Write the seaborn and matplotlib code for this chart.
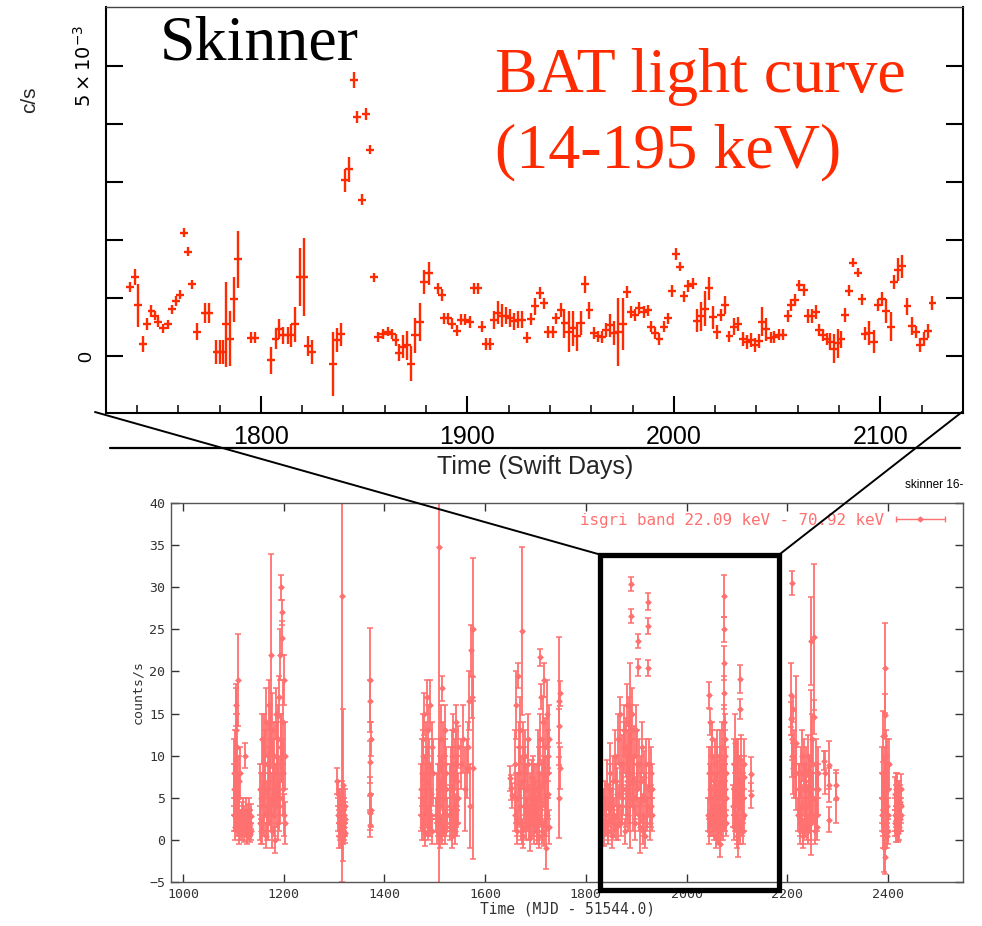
import numpy as np
import pandas as pd
import matplotlib
matplotlib.use('Agg')
import matplotlib.pyplot as plt
import seaborn as sns
from matplotlib.lines import Line2D
from matplotlib.patches import Rectangle
from matplotlib.ticker import MultipleLocator
from matplotlib.legend_handler import HandlerErrorbar

# ---- BAT light curve (Swift days, rate in units of 1e-3 c/s) ----
bat_day = [
    1736.6, 1739.0, 1740.6, 1743.0, 1744.7, 1747.0, 1748.7, 1750.3, 1752.7, 1755.1,
    1756.8, 1758.7, 1760.8, 1762.9, 1764.8, 1766.8, 1768.9, 1772.9, 1774.8, 1778.5,
    1780.1, 1781.7, 1782.9, 1785.0, 1786.9, 1789.0, 1795.1, 1797.1, 1804.8, 1807.1,
    1808.7, 1810.8, 1812.9, 1814.8, 1816.7, 1818.9, 1820.8, 1822.8, 1824.8, 1835.0,
    1836.9, 1839.0, 1840.6, 1842.7, 1845.0, 1846.7, 1849.0, 1851.1, 1853.0, 1854.8,
    1856.8, 1859.2, 1861.6, 1863.5, 1865.2, 1866.8, 1868.8, 1871.0, 1872.9, 1874.5,
    1876.9, 1878.8, 1881.3, 1885.8, 1887.7, 1888.7, 1890.6, 1892.5, 1895.1, 1897.1,
    1899.0, 1901.1, 1903.2, 1905.1, 1907.1, 1909.1, 1911.1, 1912.8, 1914.7, 1916.7,
    1918.6, 1920.5, 1922.5, 1924.4, 1926.3, 1929.0, 1930.9, 1932.9, 1935.0, 1936.9,
    1939.0, 1941.4, 1943.0, 1945.1, 1947.0, 1949.1, 1951.0, 1953.2, 1955.1, 1957.0,
    1959.1, 1961.2, 1963.1, 1965.1, 1967.2, 1969.3, 1971.2, 1973.1, 1975.2, 1977.2,
    1979.3, 1981.4, 1983.3, 1985.3, 1987.3, 1989.0, 1990.9, 1993.0, 1995.1, 1997.1,
    1999.0, 2001.1, 2003.0, 2005.1, 2007.0, 2009.1, 2011.0, 2013.2, 2015.1, 2017.2,
    2019.1, 2020.9, 2022.8, 2024.9, 2026.9, 2029.0, 2030.9, 2033.3, 2035.2, 2037.3,
    2039.5, 2041.4, 2042.7, 2044.6, 2047.1, 2048.6, 2050.7, 2052.7, 2055.1, 2056.7,
    2058.8, 2060.8, 2062.8, 2064.8, 2066.9, 2068.8, 2070.4, 2072.0, 2074.0, 2075.6,
    2077.7, 2079.3, 2080.9, 2083.0, 2084.9, 2086.9, 2089.0, 2091.1, 2092.7, 2094.6,
    2097.1, 2098.7, 2100.8, 2102.7, 2105.1, 2106.7, 2108.6, 2110.7, 2113.1, 2115.2,
    2117.2, 2119.3, 2121.2, 2123.2, 2125.2]
bat_rate = [
    1.19, 1.37, 0.88, 0.21, 0.55, 0.78, 0.70, 0.59, 0.48, 0.55,
    0.81, 0.95, 1.06, 2.13, 1.80, 1.24, 0.42, 0.75, 0.75, 0.07,
    0.07, 0.07, 0.55, 0.30, 0.98, 1.67, 0.32, 0.32, -0.07, 0.30,
    0.47, 0.36, 0.36, 0.36, 0.55, 1.36, 1.36, 0.17, 0.07, -0.13,
    0.28, 0.38, 3.03, 3.22, 4.76, 4.12, 2.70, 4.18, 3.56, 1.36,
    0.33, 0.38, 0.42, 0.38, 0.28, 0.06, 0.16, 0.19, -0.13, 0.36,
    0.59, 1.28, 1.43, 1.17, 1.05, 0.65, 0.65, 0.56, 0.44, 0.63,
    0.63, 0.59, 1.17, 1.17, 0.51, 0.21, 0.21, 0.62, 0.75, 0.70,
    0.70, 0.66, 0.60, 0.63, 0.63, 0.32, 0.64, 0.86, 1.09, 0.91,
    0.42, 0.42, 0.65, 0.79, 0.57, 0.42, 0.48, 0.34, 0.57, 1.24,
    0.79, 0.40, 0.34, 0.33, 0.45, 0.53, 0.40, 0.42, 0.56, 1.11,
    0.76, 0.71, 0.83, 0.76, 0.79, 0.51, 0.40, 0.30, 0.51, 0.65,
    1.12, 1.76, 1.54, 1.03, 1.21, 1.25, 0.61, 0.69, 0.82, 1.17,
    0.67, 0.42, 0.71, 0.88, 0.34, 0.51, 0.55, 0.29, 0.25, 0.28,
    0.19, 0.26, 0.59, 0.46, 0.32, 0.33, 0.37, 0.37, 0.69, 0.88,
    0.97, 1.22, 1.14, 0.69, 0.69, 0.76, 0.45, 0.36, 0.30, 0.25,
    0.13, 0.22, 0.29, 0.71, 1.13, 1.61, 1.44, 0.98, 0.39, 0.40,
    0.25, 0.88, 0.99, 0.78, 0.51, 1.28, 1.49, 1.55, 0.86, 0.52,
    0.42, 0.19, 0.30, 0.43, 0.92]
bat_err = [
    0.09, 0.14, 0.37, 0.14, 0.10, 0.10, 0.08, 0.08, 0.08, 0.08,
    0.08, 0.08, 0.08, 0.08, 0.08, 0.08, 0.15, 0.17, 0.17, 0.20,
    0.20, 0.20, 0.73, 0.47, 0.39, 0.49, 0.10, 0.10, 0.23, 0.17,
    0.17, 0.15, 0.15, 0.20, 0.30, 0.50, 0.67, 0.17, 0.20, 0.55,
    0.20, 0.20, 0.20, 0.22, 0.14, 0.10, 0.10, 0.10, 0.08, 0.08,
    0.08, 0.08, 0.08, 0.08, 0.10, 0.15, 0.20, 0.25, 0.30, 0.30,
    0.33, 0.20, 0.20, 0.10, 0.10, 0.10, 0.10, 0.10, 0.10, 0.10,
    0.10, 0.10, 0.10, 0.10, 0.10, 0.10, 0.10, 0.15, 0.20, 0.20,
    0.15, 0.15, 0.15, 0.15, 0.15, 0.10, 0.10, 0.15, 0.10, 0.10,
    0.10, 0.10, 0.10, 0.12, 0.25, 0.35, 0.30, 0.25, 0.20, 0.15,
    0.15, 0.10, 0.10, 0.10, 0.12, 0.20, 0.20, 0.59, 0.45, 0.10,
    0.10, 0.10, 0.10, 0.10, 0.10, 0.10, 0.10, 0.10, 0.10, 0.10,
    0.10, 0.10, 0.08, 0.10, 0.10, 0.10, 0.20, 0.25, 0.30, 0.20,
    0.20, 0.12, 0.10, 0.15, 0.10, 0.15, 0.12, 0.12, 0.12, 0.12,
    0.12, 0.12, 0.25, 0.20, 0.10, 0.10, 0.10, 0.10, 0.10, 0.10,
    0.10, 0.10, 0.10, 0.12, 0.12, 0.12, 0.10, 0.10, 0.10, 0.15,
    0.25, 0.25, 0.15, 0.12, 0.10, 0.08, 0.08, 0.10, 0.12, 0.20,
    0.20, 0.10, 0.12, 0.20, 0.25, 0.12, 0.20, 0.20, 0.15, 0.15,
    0.10, 0.12, 0.12, 0.12, 0.12]
bat_bin_half = 1.9

# ---- ISGRI light curve, arrays per visibility window ----
a_t = [1101, 1102, 1103, 1104, 1105, 1105, 1106, 1107, 1108, 1108, 1109, 1110, 1111, 1112, 1113, 1114,
       1116, 1118, 1119, 1120, 1121, 1122, 1124, 1125, 1126, 1127, 1128, 1129, 1130, 1131, 1132, 1133, 1134,
       1102, 1104, 1106, 1109, 1111, 1113, 1117, 1123, 1129, 1135]
a_r = [3, 6, 1.5, 9, 13, 16, 4, 2, 7, 11, 19, 5, 1, 3, 8, 2,
       2, 1, 3, 2.5, 0.8, 10, 1.5, 3, 2, 0.5, 2.5, 1, 3.5, 1.5, 2, 0.7, 2.8,
       8, 3, 11, 5, 7, 1, 3, 2, 2, 1]
a_e = [2, 3, 1.5, 4, 5, 2.5, 3, 1.5, 3, 4, 5.5, 2, 1.5, 2, 3, 1.5,
       1.5, 1, 2, 1.5, 1, 1.5, 1, 2, 1.5, 1, 1.8, 1, 1.5, 1, 1.5, 1, 1.5,
       4, 2, 4, 3, 3, 1, 1.5, 1.5, 1.5, 1]

b_t = [1152, 1154, 1156, 1157, 1158, 1160, 1161, 1162, 1164, 1165, 1166, 1168, 1169, 1170, 1171,
       1172, 1174, 1175, 1176, 1177, 1178, 1180, 1181, 1182, 1184, 1185, 1186, 1188, 1189, 1190,
       1191, 1192, 1193, 1194, 1195, 1196, 1197, 1198, 1199, 1200, 1201, 1202,
       1153, 1155, 1159, 1163, 1167, 1171, 1173, 1175, 1179, 1183, 1187, 1191, 1195, 1199, 1203]
b_r = [2, 5, 12, 1, 8, 3, 10, 6, 14, 0.5, 4, 9, 2, 7, 16,
       11, 5, 22, 1, 13, 8, 3, 10, 6, 15, 4, 9, 2, 12, 7,
       17, 5, 22, 11, 30, 24, 27, 14, 8, 19, 3, 10,
       6, 1, 4, 9, 2, 5, 12, 3, 6, 0, 8, 4, 11, 6, 2]
b_e = [2, 3, 3, 1.5, 4, 2.5, 5, 3, 4, 1.5, 3, 5, 2, 4, 3,
       5, 3, 12, 2, 4.5, 4, 2.5, 4, 3, 3, 2.5, 5, 2, 4, 3,
       2.5, 3, 3, 4, 1.5, 2, 1.5, 5, 4, 3, 2.5, 4,
       3, 1.5, 3, 4, 2, 3, 4, 2, 3, 1.5, 4, 3, 4, 3, 2.5]

c_t = [1306, 1308, 1309, 1310, 1311, 1312, 1313, 1314, 1315, 1316, 1317, 1318, 1319, 1320, 1321, 1322,
       1307, 1309, 1311, 1313, 1315, 1317, 1319, 1321]
c_r = [7, 5.5, 2, 4, 1, 3, 0.5, 2.5, 1.5, 29, 4, 6.5, 3, 1.5, 2.5, 0.8,
       3, 0.5, 4, 2, 5, 1, 2, 4]
c_e = [1.5, 1.5, 1.5, 2, 1, 2, 1.5, 1.5, 2, 34, 2, 9, 2, 1.5, 2, 1.2,
       2, 1.5, 2, 1.5, 2, 1.5, 1.5, 2]

d_t = [1371, 1372, 1373, 1371, 1372, 1373, 1371, 1372]
d_r = [19, 16.5, 12, 9.3, 5.5, 3.5, 1.8, 3.2]
d_e = [6.2, 2.5, 2, 2.5, 2, 2, 1.5, 2]

e_t = [1472, 1474, 1475, 1476, 1477, 1478, 1479, 1480, 1481, 1482, 1483,
       1484, 1485, 1486, 1487, 1488, 1489, 1490, 1491, 1492, 1494, 1496,
       1473, 1476, 1479, 1481, 1484, 1487, 1490, 1493, 1495]
e_r = [3, 1.5, 8, 5, 12, 2, 15, 6.5, 0.8, 10, 4, 17, 7, 1.5, 13, 3.5, 9, 16, 2.5, 5.5, 1, 8,
       6, 10, 3, 5, 8, 2, 6, 3, 11]
e_e = [2, 1.5, 4, 3, 3, 2, 2.5, 3.5, 1.5, 4, 2.5, 2, 4, 1.5, 3, 2.5, 3, 3, 2, 3, 1.5, 4,
       3, 3, 2, 3, 3, 1.5, 3, 2, 3]

g_t = [1508, 1503, 1505, 1506, 1507, 1509, 1510, 1511, 1512, 1513, 1514,
       1515, 1516, 1517, 1518, 1519, 1520, 1521, 1522, 1523, 1524,
       1504, 1508, 1511, 1514, 1517, 1520, 1523]
g_r = [34.8, 3, 1, 6, 2.5, 9, 0.5, 4, 12, 1.5, 7, 18, 3, 10, 2, 5, 13, 1, 6, 8, 3,
       5, 3, 7, 1, 6, 9, 2]
g_e = [42, 2, 1.5, 3, 2, 3, 1.5, 2.5, 4, 1.5, 3, 1.5, 2, 4, 1.5, 3, 3, 1.5, 3, 3, 2,
       3, 2, 3, 1.5, 3, 3, 1.5]

h_t = [1530, 1531, 1532, 1533, 1534, 1535, 1536, 1537, 1538, 1539, 1540, 1541, 1542, 1543, 1544, 1545, 1546,
       1531, 1534, 1537, 1540, 1543, 1546]
h_r = [4, 1.5, 8, 3, 10, 0.5, 6, 13, 2, 5, 9, 1, 14, 3.5, 7, 2, 11,
       6, 2, 8, 3, 10, 5]
h_e = [2.5, 1.5, 3, 2, 3, 1.5, 3, 2, 1.5, 3, 3, 1.5, 2, 2, 3, 1.5, 2.5,
       3, 1.5, 3, 2, 3, 3]

i_t = [1552, 1556, 1560, 1564, 1566, 1568, 1570, 1572, 1574, 1575, 1576]
i_r = [9, 12, 6, 8.5, 11, 16.5, 4, 22.5, 17, 25, 8.5]
i_e = [3, 4, 5, 3.5, 3, 3.5, 5, 3, 2.5, 8.5, 10.8]

j_t = [1650, 1652, 1654,
       1659, 1660, 1662, 1663, 1665, 1666, 1668, 1669, 1671, 1672, 1674, 1675, 1677, 1678, 1680,
       1681, 1683, 1684, 1686, 1687, 1689, 1690, 1692, 1693, 1695, 1696, 1697, 1698, 1699,
       1700, 1702, 1704, 1705, 1706, 1707, 1708, 1709, 1710, 1711, 1712, 1713, 1714, 1715, 1716,
       1717, 1718, 1719, 1720, 1721, 1722, 1723, 1724, 1725, 1726, 1727,
       1661, 1664, 1667, 1670, 1673, 1676, 1679, 1682, 1685, 1688, 1691, 1694,
       1701, 1703, 1705, 1709, 1713, 1717, 1721, 1725]
j_r = [7.3, 6.2, 5.3,
       3, 9, 16, 1, 5, 19.5, 11, 13, 2, 7, 24.8, 0.5, 4, 8, 10,
       1.5, 6, 3, 12, 2, 5, 0.2, 7.5, 4, 2.5, 6, 1, 3.5, 5,
       3, 1, 5, 2.5, 8, 0.5, 21.7, 12, 4, 17, 6.5, 2, 14, 9, 0.8,
       19, 4.5, 11, -1, 7, 15, 3, 10, 5.5, 1.5, 12,
       5, 2, 8, 4, 1, 10, 6, 3, 9, 4, 2, 7,
       6, 2, 9, 5, 1, 7, 3, 8]
j_e = [1.5, 1.5, 1.5,
       2, 4, 4, 1.5, 3, 1.5, 3, 4, 2, 3, 10, 1.5, 3, 3, 3,
       1.5, 3, 2, 3, 2, 3, 1.5, 2, 2.5, 2, 3, 1.5, 2.5, 2,
       2, 1.5, 2, 2, 3, 1.5, 1, 3, 2.5, 1.5, 3, 2, 3, 3, 1.5,
       2, 3, 3.5, 2.5, 3, 4, 2, 3, 3, 2, 4,
       3, 1.5, 3, 2.5, 1.5, 4, 3, 2, 3, 2.5, 1.5, 3,
       3, 2, 4, 3, 1.5, 3, 2.5, 3]

k_t = [1747, 1748, 1747, 1748, 1747]
k_r = [16.5, 17.4, 13.5, 8.5, 5]
k_e = [7.6, 1.5, 2, 2.5, 4.8]

l_t = [1834, 1836, 1838, 1840, 1842, 1844, 1846, 1848, 1850, 1852, 1854, 1856, 1858, 1860, 1862,
       1864, 1866, 1868, 1870, 1872, 1874, 1876, 1878, 1880, 1881, 1882, 1884, 1885, 1886, 1887,
       1888, 1890, 1890, 1891, 1892, 1894, 1896, 1898, 1900, 1902, 1903, 1904, 1906, 1908, 1910,
       1912, 1914, 1916, 1918, 1920, 1922, 1923, 1923, 1924, 1926, 1928, 1930, 1932,
       1835, 1839, 1843, 1847, 1851, 1855, 1859, 1863, 1867, 1871, 1875, 1879, 1883,
       1887, 1889, 1893, 1897, 1901, 1905, 1909, 1913, 1917, 1921, 1925, 1929, 1931]
l_r = [1.5, 0.8, 5, 2, 6.5, 1, 4, 8, 2.5, 0.5, 7, 3, 10, 1.5, 5.5,
       12, 4, 15, 2, 9, 6, 13, 1, 11, 16, 7, 3, 14, 9.5, 5,
       12, 30.4, 26.6, 8, 15, 4, 10, 2, 13, 6, 23.6, 20.5, 9, 1.5, 5,
       11, 3, 7.5, 0.5, 9, 4, 28.3, 25.4, 20.4, 6, 2, 8, 3,
       4, 3, 1, 6, 4, 2, 7, 2, 9, 5, 11, 4, 9,
       10, 13, 7, 5, 9, 3, 7, 1, 5, 3, 9, 4, 6]
l_e = [1, 1.5, 2, 1.5, 3, 1.5, 2.5, 3.5, 2, 1.5, 3, 2, 3, 1.5, 3,
       3, 2.5, 2, 1.5, 3.5, 3, 3, 1.5, 3.5, 2.5, 4, 2, 3, 4, 3,
       4, 0.8, 0.8, 4, 3, 3, 3.5, 2, 3, 3, 0.8, 1, 3, 3, 3,
       3, 2.5, 3, 1.5, 3, 2.5, 1, 1, 1, 3, 2, 3, 2,
       2, 2, 1, 3, 2, 1.5, 3, 2, 4, 3, 3, 2.5, 4,
       11, 3, 3, 2.5, 4, 2, 3, 1.5, 3, 2, 3, 2.5, 3]

m_t = [2043, 2044, 2045, 2046, 2047, 2048, 2049, 2050, 2052, 2054,
       2055, 2056, 2057, 2058, 2059, 2060, 2061, 2062, 2063, 2064,
       2065, 2066, 2067, 2068, 2069, 2070, 2071, 2072, 2073, 2074,
       2075, 2075, 2075, 2075, 2075, 2076, 2076, 2077, 2078, 2079,
       2044, 2046, 2048, 2050, 2053, 2056, 2058, 2060, 2062, 2064,
       2066, 2068, 2070, 2072, 2074, 2077, 2079]
m_r = [3, 17.2, 1, 6, 14, 2.5, 8, 12, 4, 1.5,
       7, 3, 9, 0.5, 5, 2, 10, 4, 1, 6.5,
       3, 8, -0.5, 5, 2, 11, 4, 7, 1.5, 9,
       29, 25, 21, 17.5, 14, 6, 12, 3, 8, 2,
       8, 2, 5, 10, 2, 5, 3, 8, 1, 4,
       10, 2, 6, 3, 5, 10, 5]
m_e = [2, 1.5, 1.5, 3, 1.5, 2, 3, 2, 2.5, 1.5,
       3, 2, 3, 1.5, 3, 2, 3, 2, 1.5, 3,
       2, 3, 1.5, 3, 2, 3, 2.5, 3, 1.5, 3,
       2.5, 1.5, 2, 2, 2, 3, 3, 2, 3, 1.5,
       3, 1.5, 3, 3, 1.5, 3, 2, 3, 1.5, 3,
       3, 1.5, 3, 2, 3, 3, 3]

n_t = [2093, 2094, 2095, 2096, 2097, 2099, 2100, 2101, 2102, 2103, 2105, 2106,
       2107, 2107, 2108, 2109, 2110, 2111, 2112, 2113, 2114, 2115, 2127, 2127,
       2094, 2096, 2098, 2100, 2104, 2108, 2111, 2114]
n_r = [4, 9, 1.5, 11.5, 6, 3, 8, 0.5, 5, 2, 7, 1,
       19.1, 15.5, 4, 9.5, 2.5, 6, 1, 5, 3, 7.5, 7.8, 5.3,
       6, 3, 8, 1, 4, 7, 3, 9]
n_e = [2.5, 3, 1.5, 3.5, 3, 2, 4, 1.5, 7, 2, 3, 1.5,
       1.7, 1.2, 2.5, 3, 2, 3, 1.5, 3, 2, 2.5, 2, 1.5,
       3, 2, 3, 1.5, 3, 3, 2, 3]

p_t = [2209, 2207, 2208, 2209, 2210, 2211, 2212, 2213, 2217, 2217,
       2222, 2224, 2226, 2228, 2230, 2232, 2234, 2236, 2238, 2240,
       2242, 2244, 2246, 2247, 2248, 2250, 2252, 2253, 2254, 2256,
       2258, 2260, 2262, 2247,
       2223, 2225, 2227, 2229, 2231, 2233, 2235, 2237, 2239, 2241,
       2243, 2245, 2249, 2251, 2255, 2257, 2259, 2261]
p_r = [30.5, 17.2, 14.4, 12, 10, 8.5, 15.5, 9, 11.5, 8,
       3, 6, 1, 8, 4, 0.5, 9, 2.5, 6, 1.5,
       10, 4, 7, 23.6, 2, 12, 5, 24.1, 14.6, 3,
       9, 1.5, 6, 8,
       6, 2, 4, 10, 1, 6, 3, 8, 4, 1,
       7, 3, 5, 9, 1, 6, 3, 8]
p_e = [1.4, 3.8, 2, 2.5, 2.5, 3, 1.5, 4, 8, 3,
       2, 3, 1.5, 3, 2.5, 1.5, 3, 2, 3, 1.5,
       2.5, 2.5, 3, 5.2, 2, 3, 3, 8.7, 2, 2,
       3, 1.5, 3, 9.8,
       3, 1.5, 3, 3, 1.5, 3, 2, 3, 2.5, 1.5,
       3, 2, 3, 3, 1.5, 3, 2, 3]

q_t = [2273, 2275, 2283, 2283, 2283, 2297, 2297]
q_r = [9.4, 8, 8.9, 6.5, 2.4, 6.5, 5]
q_e = [1.1, 2.5, 2.8, 2, 1.5, 1.8, 3]

r_t = [2388, 2389, 2390, 2391, 2392, 2393, 2394, 2394, 2395, 2396, 2397, 2398, 2399, 2400, 2401, 2402,
       2389, 2391, 2393, 2395, 2397, 2399, 2401]
r_r = [3, 8, 1, 12.3, 5, -1, 20.4, 14.8, 7, 2, 10, 4, 0.5, 6, 3, 9,
       5, 2, 7, -2, 4, 9, 1]
r_e = [2, 3, 2, 3, 3, 2.8, 5.3, 2.5, 4, 2, 3, 2.5, 1.5, 3, 2, 3,
       3, 1.5, 3, 2, 3, 3, 1.5]

s_t = [2413, 2414, 2415, 2416, 2417, 2418, 2419, 2420, 2421, 2422, 2423, 2424, 2425, 2426,
       2414, 2416, 2418, 2420, 2422, 2424, 2426]
s_r = [3, 5.5, 1, 4, 2, 6, 0.8, 3.5, 5, 1.5, 4.5, 2.5, 6, 3,
       2, 6, 3, 1, 5, 3, 4]
s_e = [2, 2, 1.2, 2.5, 1.5, 2, 1, 2.5, 2, 1.5, 2, 1.5, 1.8, 2,
       1.5, 2, 2, 1, 2, 2, 2]

windows = [(a_t, a_r, a_e), (b_t, b_r, b_e), (c_t, c_r, c_e), (d_t, d_r, d_e),
           (e_t, e_r, e_e), (g_t, g_r, g_e), (h_t, h_r, h_e), (i_t, i_r, i_e),
           (j_t, j_r, j_e), (k_t, k_r, k_e), (l_t, l_r, l_e), (m_t, m_r, m_e),
           (n_t, n_r, n_e), (p_t, p_r, p_e), (q_t, q_r, q_e), (r_t, r_r, r_e),
           (s_t, s_r, s_e)]

BAT_RED = '#ff2a00'
SALMON = '#ff7070'

bat = pd.DataFrame({'day': bat_day, 'rate': bat_rate, 'err': bat_err})
isgri = pd.concat([pd.DataFrame({'t': t, 'rate': r, 'err': e}) for t, r, e in windows],
                  ignore_index=True)

sns.set_theme(style='ticks')
plt.rcParams['font.family'] = ['Liberation Sans', 'DejaVu Sans']

W, H = 982, 926
fig = plt.figure(figsize=(W / 100, H / 100), dpi=100)


def fx(px):
    return px / W


def fy(py):
    return 1 - py / H


# ---------------- top panel: BAT ----------------
ax1 = fig.add_axes([fx(106), fy(413), fx(963) - fx(106), fy(7) - fy(413)])
ax1.errorbar(bat['day'], bat['rate'], xerr=bat_bin_half, yerr=bat['err'], fmt='none',
             ecolor=BAT_RED, elinewidth=1.7, capsize=0)
ax1.set_xlim(1725, 2140)
ax1.set_ylim(-0.98, 6.02)
ax1.set_yticks(range(0, 6))
ax1.set_yticklabels(['0', '', '', '', '', r'$5\times10^{-3}$'], rotation=90, va='center', fontsize=14)
ax1.xaxis.set_major_locator(MultipleLocator(100))
ax1.xaxis.set_minor_locator(MultipleLocator(20))
ax1.tick_params(axis='both', which='major', direction='in', length=12, width=1.5,
                right=True, top=False, colors='black')
ax1.tick_params(axis='x', which='major', labelsize=18, pad=9)
ax1.tick_params(axis='x', which='minor', direction='in', length=6, width=1.3, top=False)
ax1.tick_params(axis='y', which='major', pad=8)
for sp in ax1.spines.values():
    sp.set_linewidth(1.5)
    sp.set_color('black')
ax1.spines['top'].set_linewidth(1.0)
ax1.spines['top'].set_color('#444444')

fig.text(fx(30), fy(100), 'c/s', rotation=90, fontsize=15, ha='center', va='center')
fig.text(fx(535), fy(467), 'Time (Swift Days)', fontsize=18, ha='center', va='center')
fig.add_artist(Line2D([fx(110), fx(960)], [fy(448), fy(448)], transform=fig.transFigure,
                      color='black', lw=1.6))

fig.text(fx(160), fy(60), 'Skinner', fontsize=46, family='Liberation Serif',
         ha='left', va='baseline', color='black')
fig.text(fx(495), fy(92), 'BAT light curve', fontsize=46, family='Liberation Serif',
         ha='left', va='baseline', color=BAT_RED)
fig.text(fx(495), fy(167), '(14-195 keV)', fontsize=46, family='Liberation Serif',
         ha='left', va='baseline', color=BAT_RED)

# ---------------- bottom panel: ISGRI ----------------
mono = 'DejaVu Sans Mono'
ax2 = fig.add_axes([fx(171), fy(882), fx(963) - fx(171), fy(503) - fy(882)])
ax2.errorbar(isgri['t'], isgri['rate'], yerr=isgri['err'], fmt='none', ecolor=SALMON,
             elinewidth=1.3, capsize=2.4, capthick=1.1)
sns.scatterplot(data=isgri, x='t', y='rate', marker='D', s=12, color=SALMON,
                linewidth=0, ax=ax2, zorder=3)
ax2.set_xlim(976, 2549)
ax2.set_ylim(-5, 40)
ax2.set_xticks(range(1000, 2401, 200))
ax2.set_yticks(range(-5, 41, 5))
ax2.tick_params(axis='both', direction='in', length=5.5, width=1.0, top=True, right=True,
                labelsize=9.5, colors='#333333', pad=4)
for lab in ax2.get_xticklabels() + ax2.get_yticklabels():
    lab.set_family(mono)
for sp in ax2.spines.values():
    sp.set_linewidth(1.0)
    sp.set_color('#555555')
ax2.set_xlabel('Time (MJD - 51544.0)', fontsize=10.5, family=mono, color='#333333', labelpad=1)
ax2.set_ylabel('counts/s', fontsize=9.5, family=mono, color='#333333', labelpad=4)

eb = ax2.errorbar([np.nan], [np.nan], xerr=[[1.0]], fmt='D', ms=2.5, color=SALMON,
                  ecolor=SALMON, elinewidth=1.0, capsize=2.5)
ax2.legend([eb], ['isgri band 22.09 keV - 70.92 keV'], loc='upper right',
           bbox_to_anchor=(1.01, 1.012), markerfirst=False, frameon=False,
           handlelength=4.6, handletextpad=0.0, labelcolor=SALMON,
           handler_map={type(eb): HandlerErrorbar(xerr_size=1.55)},
           prop={'family': mono, 'size': 11.4})

fig.text(fx(905), fy(485), 'skinner 16-', fontsize=8.5, ha='left', va='center', color='black')

# zoom box and connectors
fig.add_artist(Rectangle((fx(600), fy(890)), fx(779) - fx(600), fy(555) - fy(890),
                         transform=fig.transFigure, fill=False, lw=3.8, edgecolor='black'))
fig.add_artist(Line2D([fx(95), fx(598)], [fy(412), fy(554)], transform=fig.transFigure,
                      color='black', lw=1.4))
fig.add_artist(Line2D([fx(962), fx(780)], [fy(412), fy(554)], transform=fig.transFigure,
                      color='black', lw=1.4))

fig.savefig('out.png', dpi=100, facecolor='white')
